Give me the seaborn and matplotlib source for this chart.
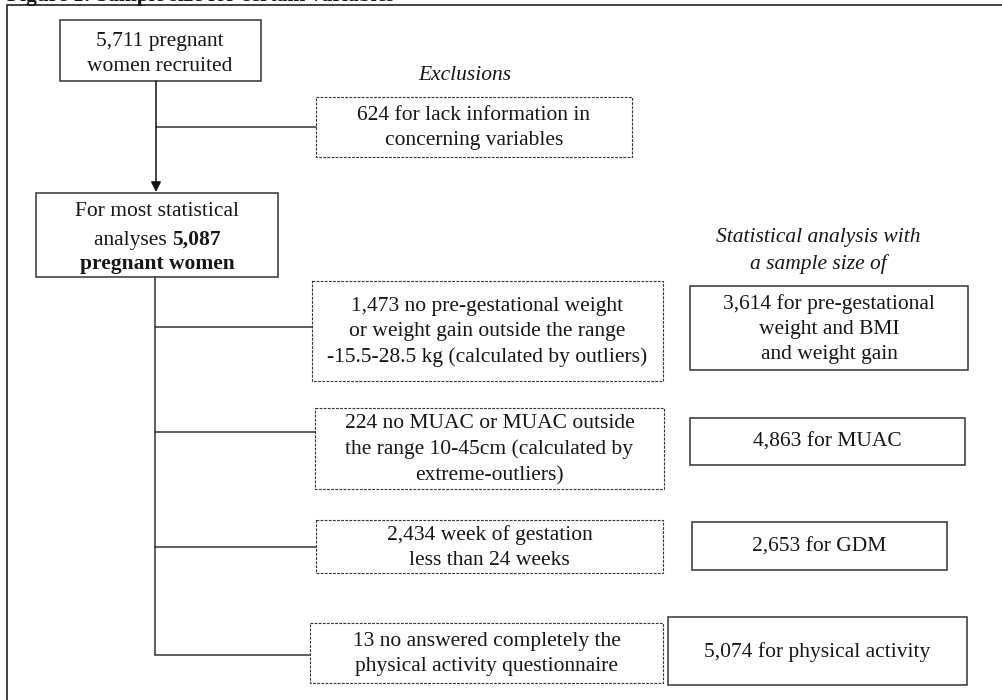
import matplotlib
matplotlib.use("Agg")
import matplotlib.pyplot as plt
from matplotlib.patches import Rectangle
import seaborn as sns

# ---- chart content ----
title = "Figure 1: Sample size for certain variables"
recruited = "5,711 pregnant\nwomen recruited"
exclusions_label = "Exclusions"
first_exclusion = "624 for lack information in\nconcerning variables"
main_line1 = "For most statistical"
main_line2 = ["analyses ", "5,087"]
main_line3 = "pregnant women"
analysis_label = "Statistical analysis with\na sample size of"
exclusions = [
    "1,473 no pre-gestational weight\nor weight gain outside the range\n-15.5-28.5 kg (calculated by outliers)",
    "224 no MUAC or MUAC outside\nthe range 10-45cm (calculated by\nextreme-outliers)",
    "2,434 week of gestation\nless than 24 weeks",
    "13 no answered completely the\nphysical activity questionnaire",
]
samples = [
    "3,614 for pre-gestational\nweight and BMI\nand weight gain",
    "4,863 for MUAC",
    "2,653 for GDM",
    "5,074 for physical activity",
]

# ---- layout (pixels, y downward) ----
W, H = 1002, 700
excl_boxes = [(312, 281, 663, 381), (315, 408, 664, 489), (316, 520, 663, 573), (310, 623, 663, 683)]
sample_boxes = [(690, 286, 968, 370), (690, 418, 965, 465), (692, 522, 947, 570), (668, 617, 967, 685)]
branch_y = [327, 432, 547, 655]

sns.set_theme(style="white")
plt.rcParams["font.family"] = ["Liberation Serif", "DejaVu Serif"]

LINE = "#333333"
TXT = "#161616"
FS = 15.5
LS = 1.45

fig = plt.figure(figsize=(W / 100, H / 100), dpi=100)
ax = fig.add_axes([0, 0, 1, 1])
ax.set_xlim(0, W)
ax.set_ylim(H, 0)
ax.axis("off")


def box(x0, y0, x1, y1, dashed=False):
    if dashed:
        r = Rectangle((x0, y0), x1 - x0, y1 - y0, fill=False, edgecolor=LINE,
                      lw=0.8, linestyle=(0, (2.5, 1.2)))
    else:
        r = Rectangle((x0, y0), x1 - x0, y1 - y0, fill=False, edgecolor=LINE, lw=1.1)
    ax.add_patch(r)


def label(x, y, s, **kw):
    ax.text(x, y, s, ha="center", va="center", fontsize=FS, color=TXT,
            linespacing=LS, multialignment="center", **kw)


# outer frame and clipped caption
ax.plot([7, 7, W + 5], [H + 5, 5, 5], color=LINE, lw=1.3, solid_joinstyle="miter")
ax.text(7, 1, title, ha="left", va="baseline", fontsize=FS, fontweight="bold", color=TXT)

# recruited box + arrow
box(60, 20, 261, 81)
label(160, 54, recruited)
ax.annotate("", xy=(156, 192), xytext=(156, 81),
            arrowprops=dict(arrowstyle="-|>,head_length=0.5,head_width=0.25",
                            color="#111111", lw=1.1, shrinkA=0, shrinkB=0))

# first exclusion
ax.plot([156, 316], [127, 127], color=LINE, lw=1.1)
ax.text(465, 75, exclusions_label, ha="center", va="center", fontsize=FS,
        style="italic", color=TXT)
box(316, 97, 632, 157, dashed=True)
label(474, 128, first_exclusion)

# main box with mixed weight text
box(36, 193, 278, 277)
cx = 157
label(cx, 212, main_line1)
fig.canvas.draw()
rend = fig.canvas.get_renderer()
t1 = ax.text(0, 245, main_line2[0], ha="left", va="baseline", fontsize=FS, color=TXT)
t2 = ax.text(0, 245, main_line2[1], ha="left", va="baseline", fontsize=FS,
             fontweight="bold", color=TXT)
w1 = t1.get_window_extent(rend).width
w2 = t2.get_window_extent(rend).width
start = cx - (w1 + w2) / 2
t1.set_x(start)
t2.set_x(start + w1)
label(cx, 264, main_line3, fontweight="bold")

# trunk and branches
ax.plot([155, 155], [277, branch_y[-1]], color=LINE, lw=1.1)
for by, (x0, y0, x1, y1), txt in zip(branch_y, excl_boxes, exclusions):
    ax.plot([155, x0], [by, by], color=LINE, lw=1.1)
    box(x0, y0, x1, y1, dashed=True)
    label((x0 + x1) / 2, (y0 + y1) / 2 + 1, txt)

ax.text(818, 251, analysis_label, ha="center", va="center", fontsize=FS,
        style="italic", color=TXT, linespacing=LS, multialignment="center")
for (x0, y0, x1, y1), txt in zip(sample_boxes, samples):
    box(x0, y0, x1, y1)
    label((x0 + x1) / 2, (y0 + y1) / 2 + 1, txt)

fig.savefig("out.png", dpi=100)
